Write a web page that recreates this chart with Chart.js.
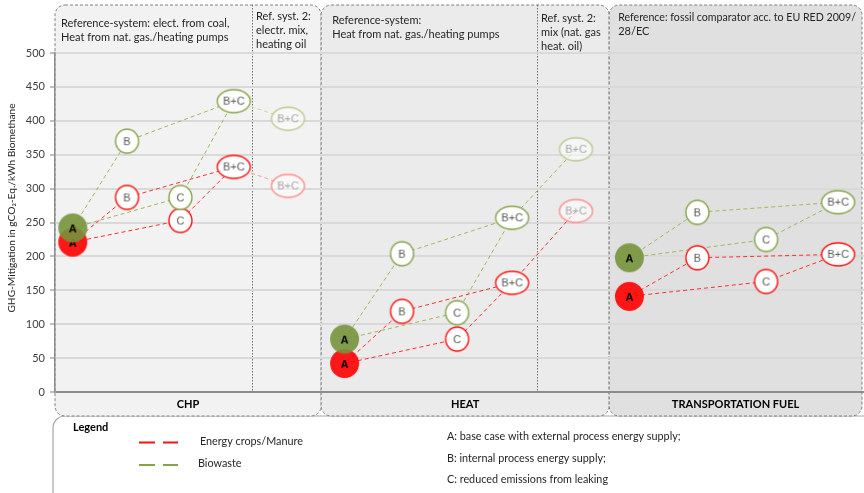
<!DOCTYPE html>
<html>
<head>
<meta charset="utf-8">
<script src="https://cdn.jsdelivr.net/npm/chart.js@4/dist/chart.umd.min.js"></script>
<style>
  html, body { margin: 0; padding: 0; background: #fff; }
  #wrap { width: 864px; height: 493px; }
</style>
</head>
<body>
<div id="wrap"><canvas id="ghgChart" width="864" height="493"></canvas></div>
<script>
// GHG mitigation of biomethane paths, per use and reference system

// marker label of each step (last one = reference system 2)
const stepLabels = ['A', 'B', 'C', 'B+C', 'B+C'];

// position of each step across the plot (0..100)
const chpX  = [2.2, 8.9, 15.5, 22.1, 28.8];
const heatX = [35.8, 42.9, 49.7, 56.5, 64.4];
const fuelX = [71.0, 79.4, 87.9, 96.8];

// gCO2-Eq./kWh biomethane
const cropsChp  = [221, 287, 253, 332, 304];
const bioChp    = [242, 370, 287, 429, 403];
const cropsHeat = [42, 119, 78, 161, 267];
const bioHeat   = [78, 204, 117, 257, 358];
const cropsFuel = [141, 198, 163, 203];
const bioFuel   = [198, 265, 225, 280];

const yMax = 500;
const yStep = 50;

// panels
const panelNames = ['CHP', 'HEAT', 'TRANSPORTATION FUEL'];
const panelEdges = [0, 32.9, 68.5, 99.75];
const ref2Split = [24.4, 59.6];
const panelHeaders = [
    ['Reference-system: elect. from coal,', 'Heat from nat. gas./heating pumps'],
    ['Reference-system:', 'Heat from nat. gas./heating pumps'],
    ['Reference: fossil comparator acc. to EU RED 2009/', '28/EC']
];
const ref2Headers = [
    ['Ref. syst. 2:', 'electr. mix,', 'heating oil'],
    ['Ref. syst. 2:', 'mix (nat. gas', 'heat. oil)']
];
const legendSeries = ['Energy crops/Manure', 'Biowaste'];
const legendSteps = [
    'A: base case with external process energy supply;',
    'B: internal process energy supply;',
    'C: reduced emissions from leaking'
];

const panelFill = ['#f2f2f2', '#ebebeb', '#e0e0e0'];
const headerPad = [6, 11, 9];
const headerY0 = [23, 20, 17];
const ref2Y0 = [16, 18];

const colors = {
    crops: { line: '#ff3030', faded: '#ff9a9a', fillA: 'rgba(255,0,0,0.9)', stroke: '#ff1010', refStroke: '#ff8c8c' },
    bio:   { line: '#9bbb59', faded: '#c9d9a6', fillA: 'rgba(119,147,60,0.9)', stroke: '#86a34a', refStroke: '#b9cc8f' }
};

// path through the steps: ref2 -> B+C -> B -> A -> C -> B+C
const linkOrder = [4, 3, 1, 0, 2, 3];

const FONT = 'Lato, "Open Sans", sans-serif';

function stepPoints(xs, ys) {
    return ys.map((v, i) => ({ x: xs[i], y: v, step: i }));
}

// marker images, drawn once
const markerCache = {};
function marker(series, step) {
    const key = series + step;
    if (markerCache[key]) return markerCache[key];
    const col = colors[series];
    const label = stepLabels[step];
    let rx = 11.5, ry = 12;
    if (step === 0) { rx = 14.5; ry = 14.5; }
    else if (label === 'B+C') { rx = 16.5; ry = 11.5; }
    const c = document.createElement('canvas');
    c.width = Math.ceil(rx * 2 + 4);
    c.height = Math.ceil(ry * 2 + 4);
    const g = c.getContext('2d');
    const cx = c.width / 2, cy = c.height / 2;
    g.beginPath();
    g.ellipse(cx, cy, rx, ry, 0, 0, Math.PI * 2);
    g.textAlign = 'center';
    g.textBaseline = 'middle';
    if (step === 0) {
        g.fillStyle = col.fillA;
        g.fill();
        g.fillStyle = '#000';
        g.font = 'bold 11px "Liberation Sans", Arial, sans-serif';
        g.fillText(label, cx, cy + 1);
    } else {
        const isRef = step === 4;
        g.fillStyle = isRef ? 'rgba(255,255,255,0.55)' : '#ffffff';
        g.fill();
        g.lineWidth = 1.4;
        g.strokeStyle = isRef ? col.refStroke : col.stroke;
        g.stroke();
        g.fillStyle = isRef ? '#a6a6a6' : '#595959';
        g.font = '11px "Liberation Sans", Arial, sans-serif';
        g.fillText(label, cx, cy + 0.5);
    }
    markerCache[key] = c;
    return c;
}

function linkDataset(pts, series, fadeRef) {
    const col = colors[series];
    return {
        data: linkOrder.filter(i => i < pts.length).map(i => pts[i]),
        showLine: true,
        borderColor: col.line,
        borderWidth: 1,
        borderDash: [4, 3],
        pointRadius: 0,
        order: 3,
        segment: {
            borderColor: ctx => (fadeRef && pts.length === 5 && ctx.p0DataIndex === 0) ? col.faded : col.line
        }
    };
}

function markerDataset(pts, series) {
    return {
        data: pts,
        showLine: false,
        pointRadius: 12,
        pointStyle: ctx => marker(series, ctx.raw ? ctx.raw.step : 1),
        order: series === 'bio' ? 0 : 1
    };
}

const groups = [
    { pts: stepPoints(chpX, cropsChp), series: 'crops', fade: true },
    { pts: stepPoints(chpX, bioChp), series: 'bio', fade: true },
    { pts: stepPoints(heatX, cropsHeat), series: 'crops', fade: false },
    { pts: stepPoints(heatX, bioHeat), series: 'bio', fade: false },
    { pts: stepPoints(fuelX, cropsFuel), series: 'crops', fade: false },
    { pts: stepPoints(fuelX, bioFuel), series: 'bio', fade: false }
];

const datasets = [];
groups.forEach(gr => datasets.push(linkDataset(gr.pts, gr.series, gr.fade)));
groups.forEach(gr => datasets.push(markerDataset(gr.pts, gr.series)));

function roundRectPath(ctx, l, t, r, b, rad) {
    ctx.beginPath();
    ctx.moveTo(l + rad, t);
    ctx.lineTo(r - rad, t);
    ctx.arcTo(r, t, r, t + rad, rad);
    ctx.lineTo(r, b - rad);
    ctx.arcTo(r, b, r - rad, b, rad);
    ctx.lineTo(l + rad, b);
    ctx.arcTo(l, b, l, b - rad, rad);
    ctx.lineTo(l, t + rad);
    ctx.arcTo(l, t, l + rad, t, rad);
    ctx.closePath();
}

// panels, headers, legend and axis title
const panelPlugin = {
    id: 'panels',
    beforeDraw(chart) {
        const { ctx, scales: { x, y } } = chart;
        const top = 5, bottom = 416;
        ctx.save();
        ctx.fillStyle = '#ffffff';
        ctx.fillRect(0, 0, chart.width, chart.height);

        // legend box
        roundRectPath(ctx, 53, 416, 920, 560, 12);
        ctx.strokeStyle = '#a6a6a6';
        ctx.lineWidth = 1.2;
        ctx.setLineDash([]);
        ctx.stroke();

        panelNames.forEach((name, i) => {
            const l = x.getPixelForValue(panelEdges[i]);
            const r = x.getPixelForValue(panelEdges[i + 1]);
            roundRectPath(ctx, l, top, r, bottom, 10);
            ctx.fillStyle = panelFill[i];
            ctx.fill();
            ctx.setLineDash([3, 2]);
            ctx.strokeStyle = '#7f7f7f';
            ctx.lineWidth = 1;
            ctx.stroke();

            ctx.setLineDash([]);
            ctx.fillStyle = '#262626';
            ctx.textAlign = 'left';
            ctx.textBaseline = 'middle';
            ctx.font = '11px ' + FONT;
            panelHeaders[i].forEach((t, k) =>
                ctx.fillText(t, l + headerPad[i], headerY0[i] + k * 14.5, r - l - headerPad[i] - 6));

            ctx.textAlign = 'center';
            ctx.font = 'bold 11px ' + FONT;
            ctx.fillStyle = '#000';
            ctx.fillText(name, (l + r) / 2, 404);
        });

        ref2Split.forEach((v, i) => {
            const px = Math.round(x.getPixelForValue(v)) + 0.5;
            ctx.beginPath();
            ctx.setLineDash([1.5, 1.5]);
            ctx.strokeStyle = '#6f6f6f';
            ctx.lineWidth = 1;
            ctx.moveTo(px, top);
            ctx.lineTo(px, y.getPixelForValue(0));
            ctx.stroke();
            ctx.setLineDash([]);
            ctx.fillStyle = '#262626';
            ctx.textAlign = 'left';
            ctx.textBaseline = 'middle';
            ctx.font = '11px ' + FONT;
            ref2Headers[i].forEach((t, k) => ctx.fillText(t, px + 3.5, ref2Y0[i] + k * 14));
        });

        // y axis title
        ctx.save();
        ctx.translate(12, 208);
        ctx.rotate(-Math.PI / 2);
        ctx.textAlign = 'center';
        ctx.textBaseline = 'middle';
        ctx.fillStyle = '#262626';
        ctx.font = '10.2px ' + FONT;
        ctx.fillText('GHG-Mitigation in gCO\u2082-Eq./kWh Biomethane', 0, 0);
        ctx.restore();

        // legend content
        ctx.textBaseline = 'middle';
        ctx.textAlign = 'left';
        ctx.fillStyle = '#000';
        ctx.font = 'bold 11px ' + FONT;
        ctx.fillText('Legend', 73, 427);
        ctx.font = '10.8px ' + FONT;
        ctx.fillStyle = '#262626';
        const sampleY = [442.5, 465];
        const sampleText = [200, 198];
        ['crops', 'bio'].forEach((s, i) => {
            ctx.strokeStyle = colors[s].stroke;
            ctx.lineWidth = 2;
            ctx.beginPath();
            ctx.moveTo(139, sampleY[i]); ctx.lineTo(155, sampleY[i]);
            ctx.moveTo(163, sampleY[i]); ctx.lineTo(178, sampleY[i]);
            ctx.stroke();
            ctx.fillText(legendSeries[i], sampleText[i], sampleY[i] - 1);
        });
        legendSteps.forEach((t, i) => ctx.fillText(t, 447, 437 + i * 21.5));
        ctx.restore();
    }
};

new Chart(document.getElementById('ghgChart'), {
    type: 'scatter',
    data: { datasets: datasets },
    plugins: [panelPlugin],
    options: {
        responsive: false,
        animation: false,
        devicePixelRatio: 1,
        layout: { autoPadding: false, padding: { top: 53, bottom: 101, left: 0, right: 0 } },
        plugins: {
            legend: { display: false },
            tooltip: { enabled: false }
        },
        scales: {
            x: { type: 'linear', min: 0, max: 100, display: false },
            y: {
                min: 0,
                max: yMax,
                afterFit: scale => { scale.width = 55; },
                ticks: {
                    stepSize: yStep,
                    padding: 5,
                    color: '#404040',
                    font: { family: FONT, size: 11 }
                },
                grid: {
                    color: ctx => ctx.tick && ctx.tick.value === 0 ? '#8c8c8c' : '#d9d9d9',
                    lineWidth: 2,
                    tickLength: 5,
                    tickColor: '#808080',
                    tickWidth: 1
                },
                border: { color: '#8c8c8c', width: 1.5 }
            }
        }
    }
});
</script>
</body>
</html>
